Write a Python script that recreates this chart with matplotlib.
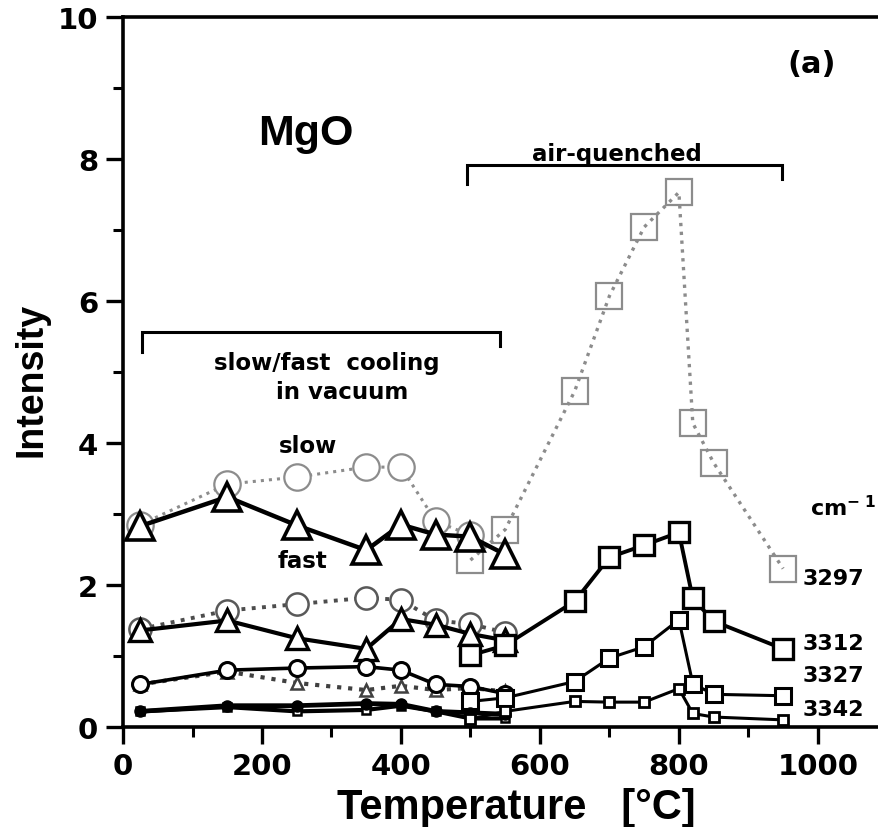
import matplotlib
matplotlib.use('Agg')
import matplotlib.pyplot as plt
from matplotlib.ticker import MultipleLocator

# teploty [°C]
t_vac = [25, 150, 250, 350, 400, 450, 500, 550]      # chlazení ve vakuu
t_slow_3297 = [25, 150, 250, 350, 400, 450, 500]
t_air = [500, 550, 650, 700, 750, 800, 820, 850, 950]  # kaleno na vzduchu

# 3297 cm-1
i3297_slow = [2.85, 3.42, 3.52, 3.66, 3.66, 2.90, 2.70]
i3297_fast = [2.83, 3.24, 2.84, 2.49, 2.85, 2.71, 2.68, 2.43]
i3297_air = [2.35, 2.78, 4.73, 6.07, 7.04, 7.53, 4.28, 3.72, 2.23]

# 3312 cm-1
i3312_slow = [1.38, 1.64, 1.73, 1.82, 1.79, 1.50, 1.45, 1.33]
i3312_fast = [1.36, 1.50, 1.25, 1.10, 1.52, 1.44, 1.31, 1.22]
i3312_air = [1.01, 1.15, 1.77, 2.39, 2.56, 2.74, 1.81, 1.49, 1.10]

# 3327 cm-1
i3327_fast = [0.60, 0.80, 0.83, 0.85, 0.80, 0.60, 0.57, 0.47]
i3327_slow = [0.60, 0.78, 0.62, 0.52, 0.58, 0.52, 0.55, 0.50]
i3327_air = [0.36, 0.41, 0.64, 0.97, 1.13, 1.51, 0.61, 0.46, 0.44]

# 3342 cm-1
i3342_fast = [0.22, 0.30, 0.30, 0.33, 0.32, 0.22, 0.20, 0.18]
i3342_slow = [0.22, 0.28, 0.22, 0.24, 0.30, 0.22, 0.12, 0.12]
i3342_air = [0.11, 0.22, 0.36, 0.35, 0.35, 0.54, 0.19, 0.14, 0.10]

wavenumbers = ['3297', '3312', '3327', '3342']
label_y = [2.10, 1.18, 0.73, 0.25]

# závorky (rozsahy teplot)
vac_range = (27, 542)
air_range = (495, 948)

BOLD = 'DejaVu Sans'
GRAY = '0.55'

fig = plt.figure(figsize=(8.79, 8.28), dpi=100)
ax = fig.add_axes([0.14, 0.1208, 0.86, 0.8575])

# --- 3297 ---
ax.plot(t_slow_3297, i3297_slow, ls=':', color=GRAY, lw=2.2, marker='o', ms=19,
        mfc='white', mec=GRAY, mew=1.6, zorder=2)
ax.plot(t_air, i3297_air, ls=':', color=GRAY, lw=2.4, marker='s', ms=19,
        mfc='none', mec=GRAY, mew=1.6, zorder=2)
ax.plot(t_vac, i3297_fast, ls='-', color='black', lw=3.2, marker='^', ms=20,
        mfc='white', mec='black', mew=2.6, zorder=4)

# --- 3312 ---
ax.plot(t_vac, i3312_slow, ls=':', color='0.3', lw=2.8, marker='o', ms=16,
        mfc='white', mec='0.35', mew=1.8, zorder=3)
ax.plot(t_vac, i3312_fast, ls='-', color='black', lw=3.0, marker='^', ms=16,
        mfc='white', mec='black', mew=2.4, zorder=4)
ax.plot(t_air, i3312_air, ls='-', color='black', lw=2.8, marker='s', ms=15,
        mfc='white', mec='black', mew=2.4, zorder=4)

# --- 3327 ---
ax.plot(t_vac, i3327_slow, ls=':', color='0.25', lw=3.0, marker='^', ms=9,
        mfc='white', mec='0.25', mew=1.8, zorder=3)
ax.plot(t_vac, i3327_fast, ls='-', color='black', lw=2.6, marker='o', ms=11.5,
        mfc='white', mec='black', mew=2.2, zorder=4)
ax.plot(t_air, i3327_air, ls='-', color='black', lw=2.2, marker='s', ms=12,
        mfc='white', mec='black', mew=2.2, zorder=4)

# --- 3342 ---
ax.plot(t_vac, i3342_slow, ls='-', color='black', lw=3.0, marker='s', ms=6,
        mfc='white', mec='black', mew=1.8, zorder=3)
ax.plot(t_vac, i3342_fast, ls='-', color='black', lw=3.4, marker='o', ms=8,
        mfc='black', mec='black', zorder=4)
ax.plot(t_air, i3342_air, ls='-', color='black', lw=2.2, marker='s', ms=7,
        mfc='white', mec='black', mew=2.0, zorder=4)

# závorky
ax.plot([vac_range[0], vac_range[0], vac_range[1], vac_range[1]],
        [5.28, 5.57, 5.57, 5.36], color='black', lw=2.2, solid_joinstyle='miter')
ax.plot([air_range[0], air_range[0], air_range[1], air_range[1]],
        [7.65, 7.92, 7.92, 7.72], color='black', lw=2.2, solid_joinstyle='miter')

# texty
ax.text(263, 8.37, 'MgO', family='Liberation Sans', fontweight='bold',
        fontsize=31, ha='center', va='center')
ax.text(991, 9.35, '(a)', family=BOLD, fontweight='bold', fontsize=22,
        ha='center', va='center')
ax.text(711, 7.99, 'air-quenched', family=BOLD, fontweight='bold', fontsize=16.5,
        ha='center', va='baseline')
ax.text(293, 5.13, 'slow/fast  cooling', family=BOLD, fontweight='bold',
        fontsize=16.5, ha='center', va='center')
ax.text(315, 4.72, 'in vacuum', family=BOLD, fontweight='bold',
        fontsize=16.5, ha='center', va='center')
ax.text(266, 3.96, 'slow', family=BOLD, fontweight='bold', fontsize=16.5,
        ha='center', va='center')
ax.text(258, 2.34, 'fast', family=BOLD, fontweight='bold', fontsize=16.5,
        ha='center', va='center')
ax.text(1036, 3.1, r'cm$^{\mathbf{-\ 1}}$', family=BOLD, fontweight='bold',
        fontsize=16, ha='center', va='center')
for wn, yy in zip(wavenumbers, label_y):
    ax.text(978, yy, wn, family=BOLD, fontweight='bold', fontsize=16,
            ha='left', va='center')

# osy
ax.set_xlim(0, 1088)
ax.set_ylim(0, 10)
ax.set_xticks(range(0, 1001, 200))
ax.set_yticks(range(0, 11, 2))
ax.xaxis.set_minor_locator(MultipleLocator(100))
ax.yaxis.set_minor_locator(MultipleLocator(1))
ax.tick_params(which='major', direction='out', length=12, width=2.4,
               labelsize=21, pad=6)
ax.tick_params(which='minor', direction='out', length=7, width=2.2)
for lab in ax.get_xticklabels() + ax.get_yticklabels():
    lab.set_fontweight('bold')
    lab.set_family(BOLD)

for side in ['left', 'top', 'bottom']:
    ax.spines[side].set_linewidth(2.6)
ax.spines['right'].set_visible(False)

ax.set_xlabel('Temperature   [°C]', family='Liberation Sans', fontweight='bold',
              fontsize=30)
ax.set_ylabel('Intensity', family='Liberation Sans', fontweight='bold',
              fontsize=27)
ax.xaxis.set_label_coords(0.52, -0.085)
ax.yaxis.set_label_coords(-0.097, 0.49)

plt.savefig('out.png', dpi=100, facecolor='white')
plt.close()
